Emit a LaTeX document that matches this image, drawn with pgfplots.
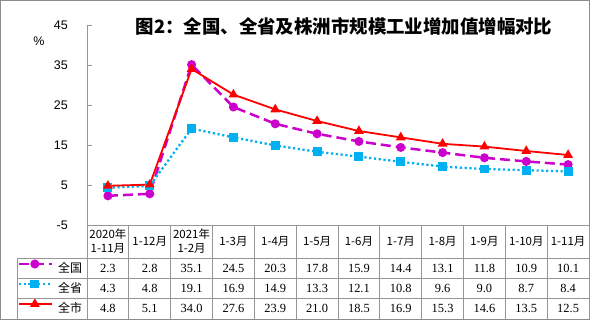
\documentclass[border=0pt]{standalone}
\usepackage{pgfplots}
\usepackage{pgfplotstable}
\pgfplotsset{compat=1.18}
\usepackage{fontspec}
\setmainfont{Liberation Serif}
\newfontfamily\cjk{Noto Sans CJK SC}
\newfontfamily\arial{Liberation Sans}
\definecolor{qgcol}{RGB}{204,0,204}
\definecolor{qscol}{RGB}{0,176,240}
\definecolor{qccol}{RGB}{255,0,0}
\definecolor{framegray}{RGB}{140,140,140}
\definecolor{gridgray}{RGB}{150,150,150}

\pgfplotstableread{
x gq qs qc
0 2.3 4.3 4.8
1 2.8 4.8 5.1
2 35.1 19.1 34.0
3 24.5 16.9 27.6
4 20.3 14.9 23.9
5 17.8 13.3 21.0
6 15.9 12.1 18.5
7 14.4 10.8 16.9
8 13.1 9.6 15.3
9 11.8 9.0 14.6
10 10.9 8.7 13.5
11 10.1 8.4 12.5
}\datatable

\begin{document}
\begin{tikzpicture}[x=1bp,y=1bp]
% outer frame
\draw[framegray, line width=1bp] (0.5,0.5) rectangle (589.5,319.5);
\begin{axis}[
  at={(87bp,95bp)}, anchor=south west,
  scale only axis, width=502bp, height=200bp,
  xmin=-0.5, xmax=11.5, ymin=-5, ymax=45,
  axis y line*=left, axis x line*=bottom,
  axis line style={gridgray, line width=0.8bp},
  xtick=\empty,
  ytick={-5,5,15,25,35,45},
  tick align=inside, major tick length=5bp,
  ytick style={gridgray, line width=0.8bp},
  /pgf/number format/assume math mode=true,
  yticklabel style={font=\arial\fontsize{12.5}{12.5}\selectfont, inner sep=0pt, xshift=-19bp},
  clip=false,
  legend image code/.code={\draw[mark repeat=2,mark phase=2,#1] plot coordinates {(0bp,4bp)(16bp,4bp)(33bp,4bp)};},
  legend style={draw=none, fill=none, at={(axis description cs:0,0)}, anchor=north east,
    xshift=-5bp, yshift=-33bp, inner sep=0pt, outer sep=0pt, row sep=0pt,
    nodes={inner sep=0pt, text height=14bp, text depth=6bp, font=\cjk\fontsize{12}{12}\selectfont},
    /tikz/every odd column/.append style={column sep=5bp}},
  legend cell align=left,
]
\addplot[qgcol, line width=2.5bp, dash pattern=on 10bp off 5bp, mark=*, mark size=3.2bp, mark options={solid}] table[x=x,y=gq] {\datatable};
\addlegendentry{全国}
\addplot[qscol, line width=2.3bp, dash pattern=on 2.2bp off 2.6bp, mark=square*, mark size=3.3bp, mark options={solid}] table[x=x,y=qs] {\datatable};
\addlegendentry{全省}
\addplot[qccol, line width=1.8bp, mark=triangle*, mark size=3.9bp, mark options={solid}] table[x=x,y=qc] {\datatable};
\addlegendentry{全市}
\end{axis}
% title and unit
\node[font=\cjk\bfseries\fontsize{18.5}{18.5}\selectfont] at (344,294) {图2：全国、全省及株洲市规模工业增加值增幅对比};
\node[font=\arial\fontsize{12.5}{12.5}\selectfont] at (39,279) {\%};
% table grid
\draw[gridgray, line width=0.8bp] (87,95) -- (589,95);
\foreach \yy in {62,42,22} {\draw[gridgray, line width=0.8bp] (17,\yy) -- (589,\yy);}
\draw[gridgray, line width=0.8bp] (17,62) -- (17,1);
\foreach \i in {0,...,12} {
  \pgfmathsetmacro{\xx}{87+\i*502/12}
  \draw[gridgray, line width=0.8bp] (\xx,95) -- (\xx,1);
}
% header labels
\foreach \lab [count=\n from 0] in {{2020年\\1-11月},{1-12月},{2021年\\1-2月},{1-3月},{1-4月},{1-5月},{1-6月},{1-7月},{1-8月},{1-9月},{1-10月},{1-11月}} {
  \pgfmathsetmacro{\xx}{87+(\n+0.5)*502/12}
  \node[font=\cjk\fontsize{11.5}{14}\selectfont, align=center, inner sep=0pt] at (\xx,78.5) {\lab};
}
% data values
\foreach \i in {0,...,11} {
  \pgfmathsetmacro{\xx}{87+(\i+0.5)*502/12}
  \pgfplotstablegetelem{\i}{gq}\of\datatable
  \node[font=\fontsize{12.5}{12.5}\selectfont, inner sep=0pt] at (\xx,52) {\pgfplotsretval};
  \pgfplotstablegetelem{\i}{qs}\of\datatable
  \node[font=\fontsize{12.5}{12.5}\selectfont, inner sep=0pt] at (\xx,32) {\pgfplotsretval};
  \pgfplotstablegetelem{\i}{qc}\of\datatable
  \node[font=\fontsize{12.5}{12.5}\selectfont, inner sep=0pt] at (\xx,12) {\pgfplotsretval};
}
\end{tikzpicture}
\end{document}
